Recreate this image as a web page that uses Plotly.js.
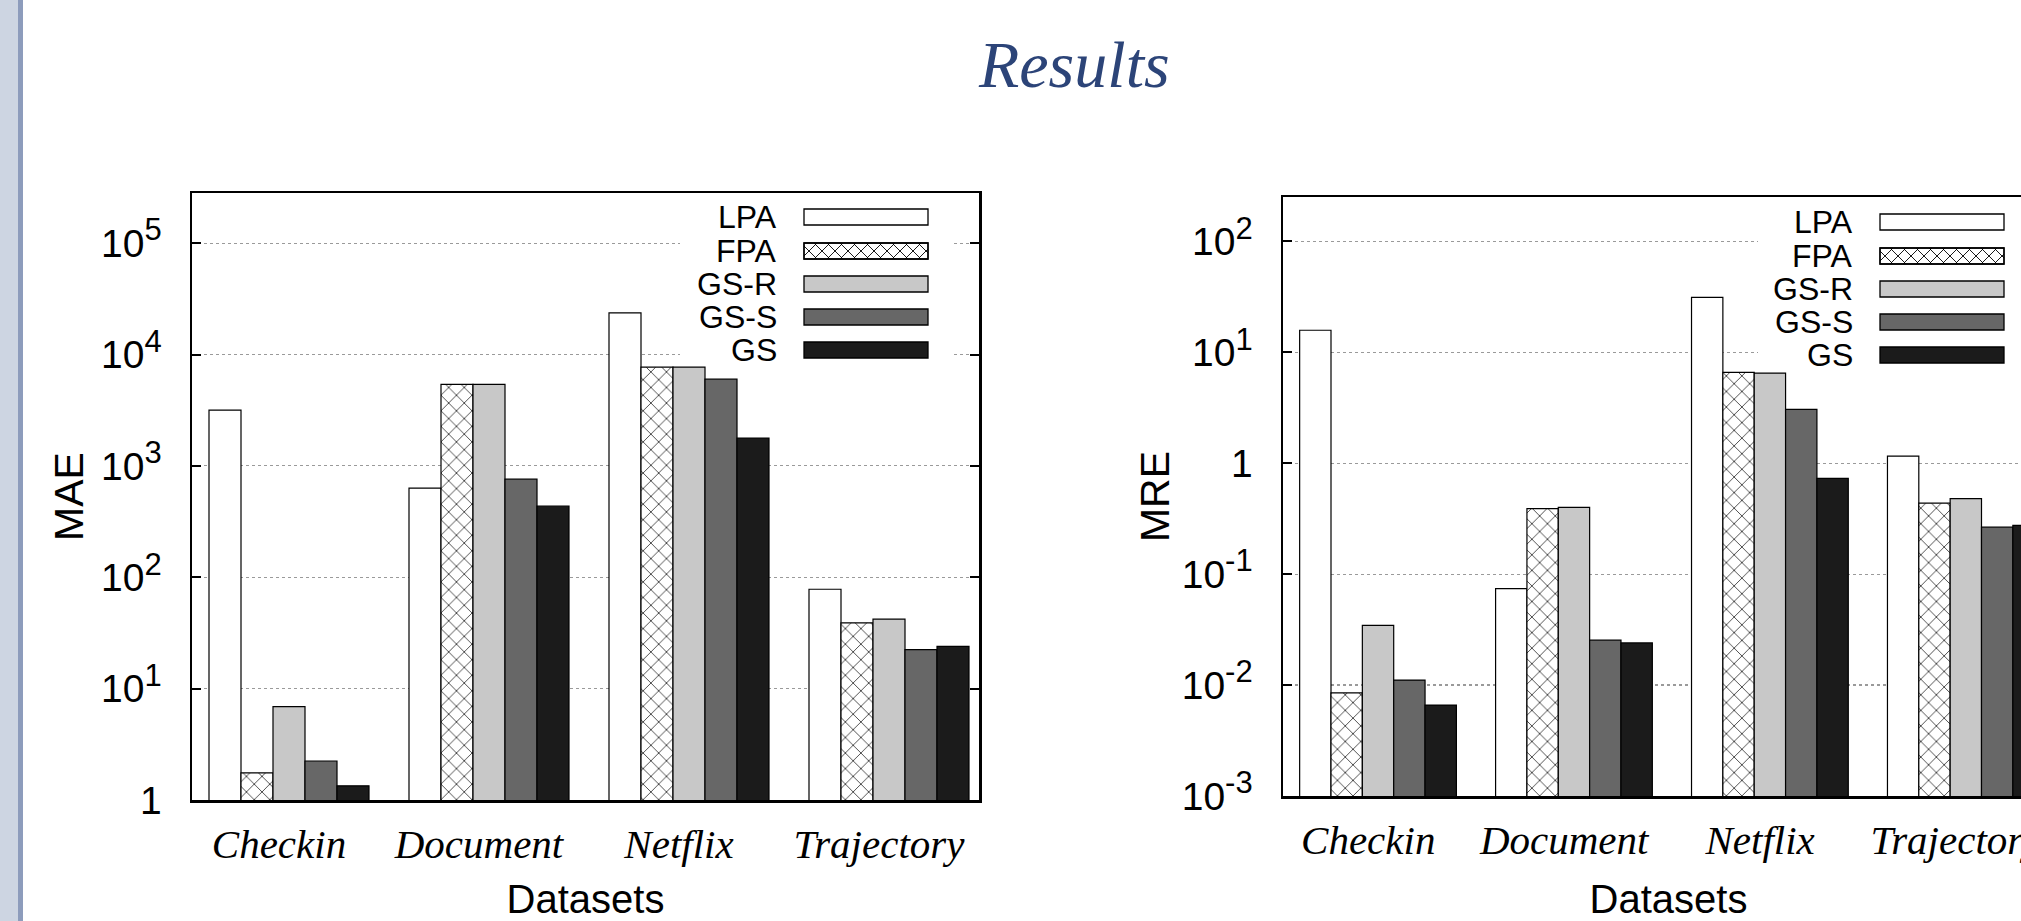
<!DOCTYPE html>
<html>
<head>
<meta charset="utf-8">
<script src="https://cdn.plot.ly/plotly-3.0.1.min.js"></script>
<style>
html, body { margin: 0; padding: 0; overflow: hidden; background: #ffffff; }
#plot { width: 2100px; height: 921px; }
</style>
</head>
<body>
<div id="plot"></div>
<script>
// ---------------- data ----------------
const categories = ['Checkin', 'Document', 'Netflix', 'Trajectory'];
const seriesNames = ['LPA', 'FPA', 'GS-R', 'GS-S', 'GS'];

// MAE (left chart)
const maeLPA = [3160, 630, 23600, 78];
const maeFPA = [1.75, 5400, 7700, 39];
const maeGSR = [6.9, 5400, 7700, 42];
const maeGSS = [2.24, 760, 6000, 22.4];
const maeGS  = [1.34, 435, 1780, 24];

// MRE (right chart)
const mreLPA = [15.8, 0.074, 31.3, 1.16];
const mreFPA = [0.0085, 0.39, 6.6, 0.436];
const mreGSR = [0.0346, 0.40, 6.5, 0.48];
const mreGSS = [0.0111, 0.0254, 3.06, 0.265];
const mreGS  = [0.0066, 0.024, 0.73, 0.275];

const maeTickVals = [1, 10, 100, 1000, 10000, 100000];
const maeExponents = ['', '1', '2', '3', '4', '5'];
const mreTickVals = [0.001, 0.01, 0.1, 1, 10, 100];
const mreExponents = ['-3', '-2', '-1', '', '1', '2'];

// ---------------- styles ----------------
const W = 2100, H = 921;
const fills = ['#ffffff', '#ffffff', '#c8c8c8', '#676767', '#1b1b1b'];
const SANS = 'Liberation Sans, Arial, sans-serif';
const SERIF = 'Liberation Serif, Times New Roman, serif';
const barW = 0.16, groupStart = -0.35;

function px(x) { return x / W; }
function py(y) { return 1 - y / H; }
function powText(e) { return e === '' ? '1' : '10<sup><span style="font-size:31px">' + e + '</span></sup>'; }

const maeSeries = [maeLPA, maeFPA, maeGSR, maeGSS, maeGS];
const mreSeries = [mreLPA, mreFPA, mreGSR, mreGSS, mreGS];

function makeTraces(seriesList, xa, ya) {
  return seriesList.map((vals, k) => {
    const marker = { color: fills[k], line: { color: '#000000', width: 1.2 } };
    if (k === 1) {
      marker.pattern = { shape: 'x', fgcolor: '#000000', bgcolor: '#ffffff', size: 11, solidity: 0.12, fillmode: 'replace' };
    }
    return {
      type: 'bar', name: seriesNames[k], x: categories, y: vals,
      xaxis: xa, yaxis: ya, width: barW, offset: groupStart + barW * k,
      marker: marker, showlegend: false, hoverinfo: 'x+y+name'
    };
  });
}

const traces = makeTraces(maeSeries, 'x', 'y').concat(makeTraces(mreSeries, 'x2', 'y2'));

// ---------------- layout helpers ----------------
const xr = [-0.435, 3.5];
function catAxis(domain, anchor) {
  return {
    domain: domain, anchor: anchor, type: 'category', range: xr,
    categoryorder: 'array', categoryarray: categories,
    showline: true, linewidth: 2.5, linecolor: '#000', mirror: true,
    ticks: '', showgrid: false, zeroline: false, ticklabelstandoff: 6,
    tickfont: { family: SERIF, style: 'italic', size: 41, color: '#000' },
    title: { text: 'Datasets', font: { family: SANS, size: 40, color: '#000' }, standoff: 26 },
    fixedrange: true
  };
}
function topAxis(over, anchor) {
  return {
    overlaying: over, anchor: anchor, side: 'top', type: 'linear', range: xr,
    tickvals: [0, 1, 2, 3], ticks: 'inside', ticklen: 9, tickwidth: 2, tickcolor: '#000',
    showticklabels: false, showgrid: false, zeroline: false, showline: false, fixedrange: true
  };
}
function logAxis(domain, anchor, range, tv, exps, title, standoff) {
  return {
    domain: domain, anchor: anchor, type: 'log', range: range,
    tickvals: tv, ticktext: exps.map(powText), ticks: 'inside', ticklen: 9, tickwidth: 2, tickcolor: '#000',
    showline: true, linewidth: 2.5, linecolor: '#000', mirror: 'ticks',
    showgrid: true, gridcolor: '#9a9a9a', griddash: 'dot', gridwidth: 1.2, zeroline: false,
    ticklabelstandoff: 20,
    tickfont: { family: SANS, size: 39, color: '#000' },
    title: { text: title, font: { family: SANS, size: 41, color: '#000' }, standoff: standoff },
    fixedrange: true
  };
}

const shapes = [];
const annotations = [];

// sidebar
shapes.push({ type: 'rect', xref: 'paper', yref: 'paper', x0: 0, x1: px(18), y0: 0, y1: 1, fillcolor: '#cdd5e2', line: { width: 0 }, layer: 'above' });
shapes.push({ type: 'rect', xref: 'paper', yref: 'paper', x0: px(18), x1: px(23), y0: 0, y1: 1, fillcolor: '#8d9cbc', line: { width: 0 }, layer: 'above' });

// title
annotations.push({
  xref: 'paper', yref: 'paper', x: px(1074), y: py(64), xanchor: 'center', yanchor: 'middle',
  text: 'Results', showarrow: false,
  font: { family: SERIF, style: 'italic', size: 66, color: '#2c4478' }
});

function crossPath(x0, x1, y0, y1, p) {
  const h = y1 - y0;
  let d = '';
  for (let s = x0 - h; s < x1; s += p) {
    const t0 = Math.max(0, x0 - s), t1 = Math.min(h, x1 - s);
    if (t1 > t0) {
      d += 'M' + px(s + t0) + ',' + py(y0 + t0) + 'L' + px(s + t1) + ',' + py(y0 + t1);
      d += 'M' + px(s + t0) + ',' + py(y1 - t0) + 'L' + px(s + t1) + ',' + py(y1 - t1);
    }
  }
  return d;
}

function addLegend(labelRight, sx0, sx1, rows, boxX0, boxX1, boxY0, boxY1) {
  shapes.push({ type: 'rect', xref: 'paper', yref: 'paper', x0: px(boxX0), x1: px(boxX1), y0: py(boxY1), y1: py(boxY0), fillcolor: '#ffffff', line: { width: 0 }, layer: 'above' });
  seriesNames.forEach((name, k) => {
    const yc = rows[k];
    const y0 = yc - 8, y1 = yc + 8;
    shapes.push({ type: 'rect', xref: 'paper', yref: 'paper', x0: px(sx0), x1: px(sx1), y0: py(y1), y1: py(y0), fillcolor: fills[k], line: { color: '#000', width: 1.3 }, layer: 'above' });
    if (k === 1) {
      shapes.push({ type: 'path', xref: 'paper', yref: 'paper', path: crossPath(sx0, sx1, y0, y1, 13), line: { color: '#000', width: 0.9 }, layer: 'above' });
      shapes.push({ type: 'rect', xref: 'paper', yref: 'paper', x0: px(sx0), x1: px(sx1), y0: py(y1), y1: py(y0), fillcolor: 'rgba(0,0,0,0)', line: { color: '#000', width: 1.3 }, layer: 'above' });
    }
    annotations.push({
      xref: 'paper', yref: 'paper', x: px(labelRight), y: py(yc), xanchor: 'right', yanchor: 'middle',
      text: name, showarrow: false, font: { family: SANS, size: 32, color: '#000' }
    });
  });
}

addLegend(779, 804, 928, [217, 251, 284, 317, 350], 680, 953, 202, 362);
addLegend(1855, 1880, 2004, [222, 256, 289, 322, 355], 1758, 2100, 206, 367);

const layout = {
  width: W, height: H,
  margin: { l: 0, r: 0, t: 0, b: 0 },
  paper_bgcolor: '#ffffff', plot_bgcolor: '#ffffff',
  barmode: 'overlay',
  showlegend: false,
  xaxis: catAxis([px(192), px(979)], 'y'),
  yaxis: logAxis([1 - 800 / H, 1 - 193 / H], 'x', [0, 5.45], maeTickVals, maeExponents, 'MAE', 5),
  xaxis3: topAxis('x', 'y'),
  xaxis2: catAxis([px(1283), px(2054)], 'y2'),
  yaxis2: logAxis([1 - 796 / H, 1 - 197 / H], 'x2', [-3, 2.4], mreTickVals, mreExponents, 'MRE', 0),
  xaxis4: topAxis('x2', 'y2'),
  shapes: shapes,
  annotations: annotations
};

Plotly.newPlot('plot', traces, layout, { displayModeBar: false, staticPlot: true });
</script>
</body>
</html>
